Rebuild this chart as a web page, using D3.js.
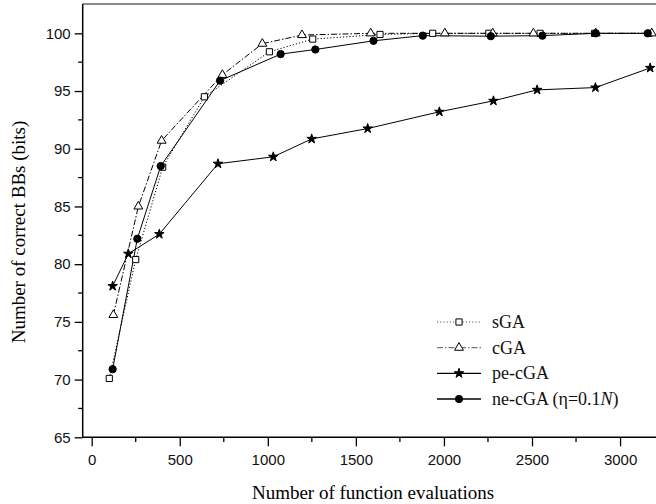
<!DOCTYPE html>
<html><head><meta charset="utf-8">
<script src="https://cdn.jsdelivr.net/npm/d3@7"></script>
<style>body{margin:0;background:#fff}svg{display:block}</style>
</head><body><svg id="c" width="656" height="504"></svg>
<script>
const xTicks = [0, 500, 1000, 1500, 2000, 2500, 3000];
const yTicks = [65, 70, 75, 80, 85, 90, 95, 100];
const seriesNames = ["sGA", "cGA", "pe-cGA", "ne-cGA"];
const sgaX = [100, 250, 403, 640, 1009, 1255, 1637, 1936, 2255, 2546, 2855, 3165];
const sgaY = [70.1, 80.4, 88.4, 94.5, 98.4, 99.5, 99.9, 100.0, 100.0, 100.0, 100.0, 100.0];
const cgaX = [123, 265, 397, 742, 969, 1194, 1584, 2005, 2277, 2508, 2862, 3180];
const cgaY = [75.6, 85.0, 90.7, 96.4, 99.1, 99.85, 100.0, 100.0, 100.0, 100.0, 100.0, 100.0];
const pecgaX = [119, 208, 384, 717, 1031, 1249, 1567, 1974, 2281, 2529, 2860, 3171];
const pecgaY = [78.1, 80.9, 82.6, 88.7, 89.3, 90.85, 91.75, 93.2, 94.15, 95.1, 95.3, 97.0];
const necgaX = [119, 259, 392, 729, 1073, 1270, 1600, 1880, 2266, 2559, 2862, 3157];
const necgaY = [70.9, 82.2, 88.5, 95.9, 98.2, 98.6, 99.35, 99.8, 99.75, 99.8, 100.0, 100.0];

const svg = d3.select("#c");
const x = d3.scaleLinear().domain([-51, 3204]).range([82.7, 656]);
const y = d3.scaleLinear().domain([65, 102.54]).range([437.3, 4]);

const series = [
  {name: "sGA", xs: sgaX, ys: sgaY, dash: "1.2,2", sym: d3.symbolSquare, size: 38, fill: "#fff", lstroke: "#555"},
  {name: "cGA", xs: cgaX, ys: cgaY, dash: "6,2,1.5,2", sym: d3.symbolTriangle, size: 34, fill: "#fff", lstroke: "#555"},
  {name: "pe-cGA", xs: pecgaX, ys: pecgaY, dash: null, sym: d3.symbolStar, size: 28, fill: "#000", lstroke: "#000"},
  {name: "ne-cGA", xs: necgaX, ys: necgaY, dash: null, sym: d3.symbolCircle, size: 42, fill: "#000", lstroke: "#000"}
];

// top frame
svg.append("line").attr("x1", 82.7).attr("x2", 656).attr("y1", 4).attr("y2", 4)
  .attr("stroke", "#666").attr("stroke-width", 1.5);

// y axis
const yAxis = d3.axisLeft(y).tickValues(yTicks).tickSize(8).tickPadding(4).tickFormat(d3.format("d"));
const gy = svg.append("g").attr("transform", "translate(82.7,0)").call(yAxis);
gy.select(".domain").attr("d", "M0,4V437.3").attr("stroke-width", 1.5);
gy.selectAll(".tick line").attr("stroke-width", 1.3);
gy.selectAll("text").attr("font-family", "Liberation Sans, Arial, sans-serif").attr("font-size", 15).attr("fill", "#111");
const yMinor = d3.range(67.5, 102, 5);
svg.append("g").selectAll("line").data(yMinor).join("line")
  .attr("x1", 78.2).attr("x2", 82.7).attr("y1", d => y(d)).attr("y2", d => y(d))
  .attr("stroke", "#000").attr("stroke-width", 1.3);

// x axis
const xAxis = d3.axisBottom(x).tickValues(xTicks).tickSize(9).tickPadding(8).tickFormat(d3.format("d"));
const gx = svg.append("g").attr("transform", "translate(0,437.3)").call(xAxis);
gx.select(".domain").attr("d", "M82.7,0H656").attr("stroke-width", 1.5);
gx.selectAll(".tick line").attr("stroke-width", 1.3);
gx.selectAll("text").attr("font-family", "Liberation Sans, Arial, sans-serif").attr("font-size", 15).attr("fill", "#111");
const xMinor = d3.range(250, 3204, 500);
svg.append("g").selectAll("line").data(xMinor).join("line")
  .attr("x1", d => x(d)).attr("x2", d => x(d)).attr("y1", 437.3).attr("y2", 442)
  .attr("stroke", "#000").attr("stroke-width", 1.3);

// titles
svg.append("text").attr("x", 373).attr("y", 499).attr("text-anchor", "middle")
  .attr("font-family", "Liberation Serif, Times New Roman, serif").attr("font-size", 19)
  .text("Number of function evaluations");
svg.append("text").attr("transform", "translate(25,232) rotate(-90)").attr("text-anchor", "middle")
  .attr("font-family", "Liberation Serif, Times New Roman, serif").attr("font-size", 19)
  .text("Number of correct BBs (bits)");

// series lines and markers
const plot = svg.append("g");
series.forEach(s => {
  const pts = s.xs.map((v, i) => [v, s.ys[i]]);
  const line = d3.line().x(d => x(d[0])).y(d => y(d[1]));
  plot.append("path").attr("d", line(pts)).attr("fill", "none").attr("stroke", "#000")
    .attr("stroke-width", 1).attr("stroke-dasharray", s.dash);
});
series.forEach(s => {
  const pts = s.xs.map((v, i) => [v, s.ys[i]]);
  plot.append("g").selectAll("path").data(pts).join("path")
    .attr("d", d3.symbol().type(s.sym).size(s.size))
    .attr("transform", d => `translate(${x(d[0])},${y(d[1])})`)
    .attr("fill", s.fill).attr("stroke", "#000").attr("stroke-width", 1);
});

// legend
const leg = svg.append("g");
const rowY = [322, 347.7, 373.3, 399];
series.forEach((s, i) => {
  const g = leg.append("g").attr("transform", `translate(0,${rowY[i]})`);
  g.append("line").attr("x1", 437).attr("x2", 481).attr("y1", 0).attr("y2", 0)
    .attr("stroke", s.lstroke).attr("stroke-width", s.dash ? 1 : 1.3).attr("stroke-dasharray", s.dash);
  g.append("path").attr("d", d3.symbol().type(s.sym).size(s.size)).attr("transform", "translate(459,0)")
    .attr("fill", s.fill).attr("stroke", "#000").attr("stroke-width", 1);
  const t = g.append("text").attr("x", 492).attr("y", 6).attr("font-family", "Liberation Serif, Times New Roman, serif")
    .attr("font-size", 18).attr("fill", "#111");
  if (s.name === "ne-cGA") {
    t.append("tspan").text("ne-cGA (η=0.1");
    t.append("tspan").attr("font-style", "italic").text("N");
    t.append("tspan").text(")");
  } else {
    t.text(s.name);
  }
});
</script></body></html>
